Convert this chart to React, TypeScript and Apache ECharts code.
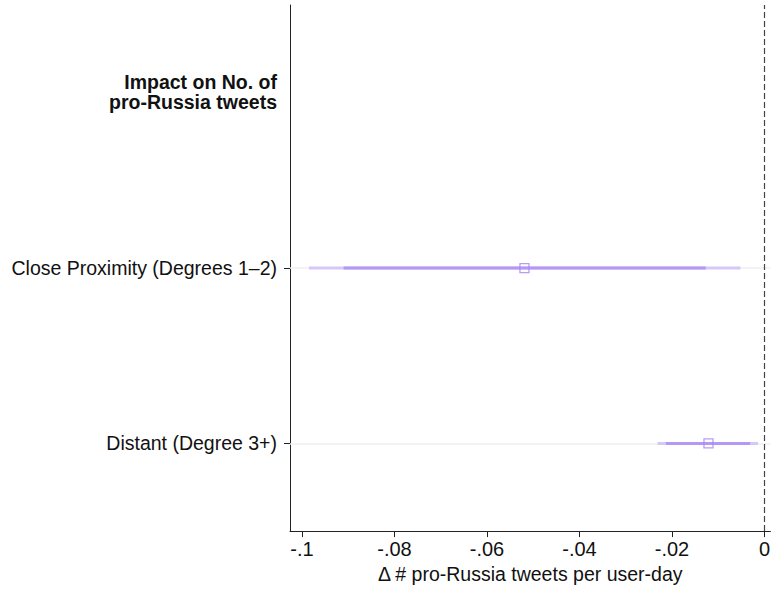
import React, { useEffect, useRef } from "react";
import * as echarts from "echarts";

const categories = ["Distant (Degree 3+)", "Close Proximity (Degrees 1–2)", "Impact on No. of\npro-Russia tweets"];
const pointEstimates = [-0.0121, -0.0519];
const outerLow = [-0.0231, -0.0985];
const outerHigh = [-0.0014, -0.0052];
const innerLow = [-0.0213, -0.0910];
const innerHigh = [-0.0031, -0.0127];
const xTicks = [-0.1, -0.08, -0.06, -0.04, -0.02, 0];

const fmt = (v: number) => {
  if (Math.abs(v) < 1e-9) return "0";
  const s = String(Math.round(v * 1000) / 1000);
  return s.replace("0.", ".");
};

const FONT = "Liberation Sans";

export default function App() {
  const ref = useRef<HTMLDivElement>(null);
  useEffect(() => {
    const chart = echarts.init(ref.current!, null, { renderer: "svg" });
    const makeBar = (lo: number[], hi: number[], color: string, h: number, z: number) => ({
      type: "custom",
      silent: true,
      z,
      renderItem: (params: any, api: any) => {
        const a = api.coord([api.value(0), api.value(2)]);
        const b = api.coord([api.value(1), api.value(2)]);
        return {
          type: "rect",
          shape: { x: a[0], y: a[1] - h / 2, width: b[0] - a[0], height: h },
          style: { fill: color },
        };
      },
      data: lo.map((l, i) => [l, hi[i], i]),
    });
    chart.setOption({
      animation: false,
      grid: { left: 290, right: 0, top: 5, bottom: 57 },
      xAxis: {
        type: "value",
        min: -0.1026,
        max: 0.0013,
        name: "Δ # pro-Russia tweets per user-day",
        nameLocation: "middle",
        nameGap: 31,
        nameTextStyle: { fontFamily: FONT, fontSize: 19.5, color: "#111" },
        axisLine: { show: true, onZero: false, lineStyle: { color: "#222", width: 1 } },
        axisTick: { show: true, length: 6, customValues: xTicks, lineStyle: { color: "#222" } },
        axisLabel: {
          customValues: xTicks,
          formatter: fmt,
          margin: 8,
          fontFamily: FONT,
          fontSize: 20,
          color: "#111",
        },
        splitLine: { show: false },
      },
      yAxis: {
        type: "category",
        data: categories,
        boundaryGap: true,
        axisLine: { show: true, onZero: false, lineStyle: { color: "#222", width: 1 } },
        axisTick: {
          show: true,
          alignWithLabel: true,
          length: 6,
          interval: (index: number) => index !== 2,
          lineStyle: { color: "#222" },
        },
        axisLabel: {
          margin: 13,
          fontFamily: FONT,
          fontSize: 19.5,
          color: "#111",
          interval: 0,
          formatter: (v: string) => (v === categories[2] ? "{b|" + v.replace("\n", "}\n{b|") + "}" : v),
          rich: {
            b: { fontWeight: "bold", fontFamily: FONT, fontSize: 19.5, color: "#111", lineHeight: 20, align: "right", padding: [0, 0, 2, 0] },
          },
        },
        splitLine: { show: false },
      },
      series: [
        {
          type: "line",
          z: 1,
          data: [],
          markLine: {
            silent: true,
            symbol: "none",
            z: 1,
            label: { show: false },
            lineStyle: { color: "#ebf0f0", width: 1.5, type: "solid" },
            data: [{ yAxis: categories[0] }, { yAxis: categories[1] }],
          },
        },
        {
          type: "line",
          z: 2,
          data: [],
          markLine: {
            silent: true,
            symbol: "none",
            z: 2,
            label: { show: false },
            lineStyle: { color: "#444", width: 1.2, type: [6, 3] },
            data: [{ xAxis: 0 }],
          },
        },
        makeBar(outerLow, outerHigh, "#d5c7f7", 3, 10),
        makeBar(innerLow, innerHigh, "#b498f4", 3, 11),
        {
          type: "scatter",
          z: 12,
          symbol: "rect",
          symbolSize: 9,
          itemStyle: { color: "transparent", borderColor: "#a883f5", borderWidth: 1.3 },
          data: pointEstimates.map((v, i) => [v, i]),
        },
      ],
    });
    return () => chart.dispose();
  }, []);
  return <div ref={ref} style={{ width: 773, height: 589, position: "absolute", left: 0, top: 0, background: "#fff" }} />;
}
